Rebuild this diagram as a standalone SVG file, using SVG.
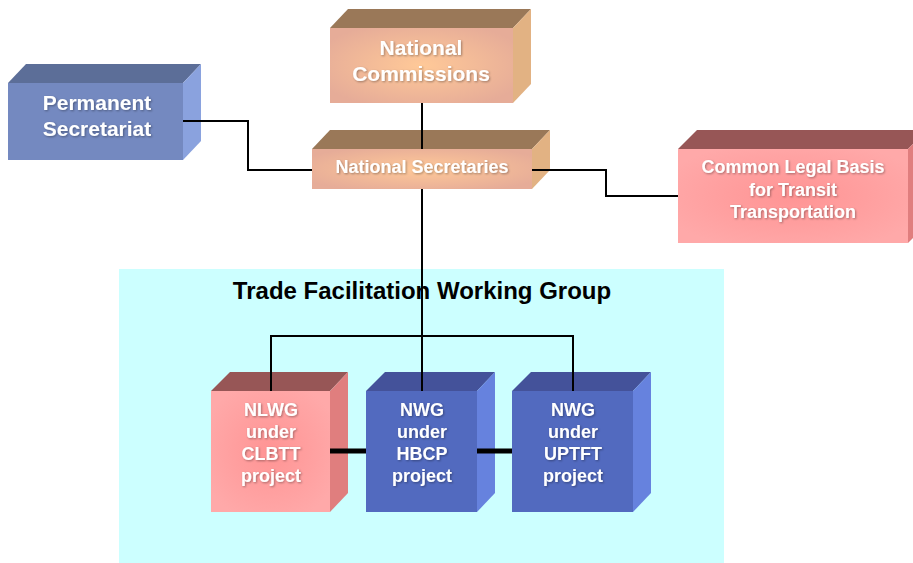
<svg xmlns="http://www.w3.org/2000/svg" width="913" height="563" viewBox="0 0 913 563">
<defs>
<radialGradient id="gOrange" cx="0.5" cy="0.5" r="0.6">
<stop offset="0" stop-color="#FFC998"/>
<stop offset="1" stop-color="#E6AC98"/>
</radialGradient>
<radialGradient id="gPink" cx="0.5" cy="0.5" r="0.6">
<stop offset="0" stop-color="#FF9494"/>
<stop offset="1" stop-color="#FFA9A9"/>
</radialGradient>
<filter id="sh" x="-10%" y="-20%" width="120%" height="140%">
<feDropShadow dx="1" dy="1" stdDeviation="0.8" flood-color="#000" flood-opacity="0.35"/>
</filter>
</defs>
<style>
.t{font-family:"Liberation Sans",Arial,sans-serif;font-weight:bold;fill:#fff;text-anchor:middle;filter:url(#sh)}
.t21{font-size:21px}
.t18{font-size:18px}
.title{font-family:"Liberation Sans",Arial,sans-serif;font-weight:bold;font-size:24px;fill:#000;text-anchor:middle}
.or-f{fill:url(#gOrange)}.or-t{fill:#9A7858}.or-s{fill:#E2B283}
.bl-f{fill:#7489C0}.bl-t{fill:#5C6E98}.bl-s{fill:#8AA2DE}
.pk-f{fill:url(#gPink)}.pk-t{fill:#975656}.pk-s{fill:#E07E7E}
.db-f{fill:#526ABF}.db-t{fill:#44529A}.db-s{fill:#6682DE}
.ln{fill:none;stroke:#000;stroke-width:2}
.thick{fill:none;stroke:#000;stroke-width:5}
</style>
<rect id="tfwg-area" x="119" y="269" width="605" height="294" fill="#CCFFFF"/>
<text class="title" x="422" y="299">Trade Facilitation Working Group</text>

<g id="permanent-secretariat">
<polygon class="bl-t" points="8,83 26,64 201,64 183,83"/>
<polygon class="bl-s" points="183,83 201,64 201,141 183,160"/>
<rect class="bl-f" x="8" y="83" width="175" height="77"/>
<text class="t t21" x="97" y="110">Permanent</text>
<text class="t t21" x="97" y="136">Secretariat</text>
</g>

<g id="national-commissions">
<polygon class="or-t" points="330,28 348,9 531,9 513,28"/>
<polygon class="or-s" points="513,28 531,9 531,84 513,103"/>
<rect class="or-f" x="330" y="28" width="183" height="75"/>
<text class="t t21" x="421" y="55">National</text>
<text class="t t21" x="421" y="81">Commissions</text>
</g>

<g id="national-secretaries">
<polygon class="or-t" points="312,149 330,130 550,130 532,149"/>
<polygon class="or-s" points="532,149 550,130 550,170 532,189"/>
<rect class="or-f" x="312" y="149" width="220" height="40"/>
<text class="t t18" x="422" y="173">National Secretaries</text>
</g>

<g id="common-legal-basis">
<polygon class="pk-t" points="678,149 697,130 927,130 908,149"/>
<polygon class="pk-s" points="908,149 927,130 927,224 908,243"/>
<rect class="pk-f" x="678" y="149" width="230" height="94"/>
<text class="t t18" x="793" y="173">Common Legal Basis</text>
<text class="t t18" x="793" y="196">for Transit</text>
<text class="t t18" x="793" y="218">Transportation</text>
</g>

<g id="nlwg-clbtt">
<polygon class="pk-t" points="211,391 230,372 348,372 330,391"/>
<polygon class="pk-s" points="330,391 348,372 348,493 330,512"/>
<rect class="pk-f" x="211" y="391" width="119" height="121"/>
<text class="t t18" x="271" y="416">NLWG</text>
<text class="t t18" x="271" y="438">under</text>
<text class="t t18" x="271" y="460">CLBTT</text>
<text class="t t18" x="271" y="482">project</text>
</g>

<g id="nwg-hbcp">
<polygon class="db-t" points="366,391 385,372 495,372 477,391"/>
<polygon class="db-s" points="477,391 495,372 495,493 477,512"/>
<rect class="db-f" x="366" y="391" width="111" height="121"/>
<text class="t t18" x="422" y="416">NWG</text>
<text class="t t18" x="422" y="438">under</text>
<text class="t t18" x="422" y="460">HBCP</text>
<text class="t t18" x="422" y="482">project</text>
</g>

<g id="nwg-uptft">
<polygon class="db-t" points="512,391 531,372 651,372 633,391"/>
<polygon class="db-s" points="633,391 651,372 651,493 633,512"/>
<rect class="db-f" x="512" y="391" width="121" height="121"/>
<text class="t t18" x="573" y="416">NWG</text>
<text class="t t18" x="573" y="438">under</text>
<text class="t t18" x="573" y="460">UPTFT</text>
<text class="t t18" x="573" y="482">project</text>
</g>

<g id="connectors">
<polyline class="ln" points="183,121 248,121 248,170 312,170"/>
<line class="ln" x1="422" y1="103" x2="422" y2="149"/>
<polyline class="ln" points="532,170 606,170 606,196 678,196"/>
<line class="ln" x1="422" y1="189" x2="422" y2="391"/>
<polyline class="ln" points="271,391 271,336 573,336 573,391"/>
<line class="thick" x1="330" y1="451" x2="366" y2="451"/>
<line class="thick" x1="477" y1="451" x2="512" y2="451"/>
</g>
</svg>
